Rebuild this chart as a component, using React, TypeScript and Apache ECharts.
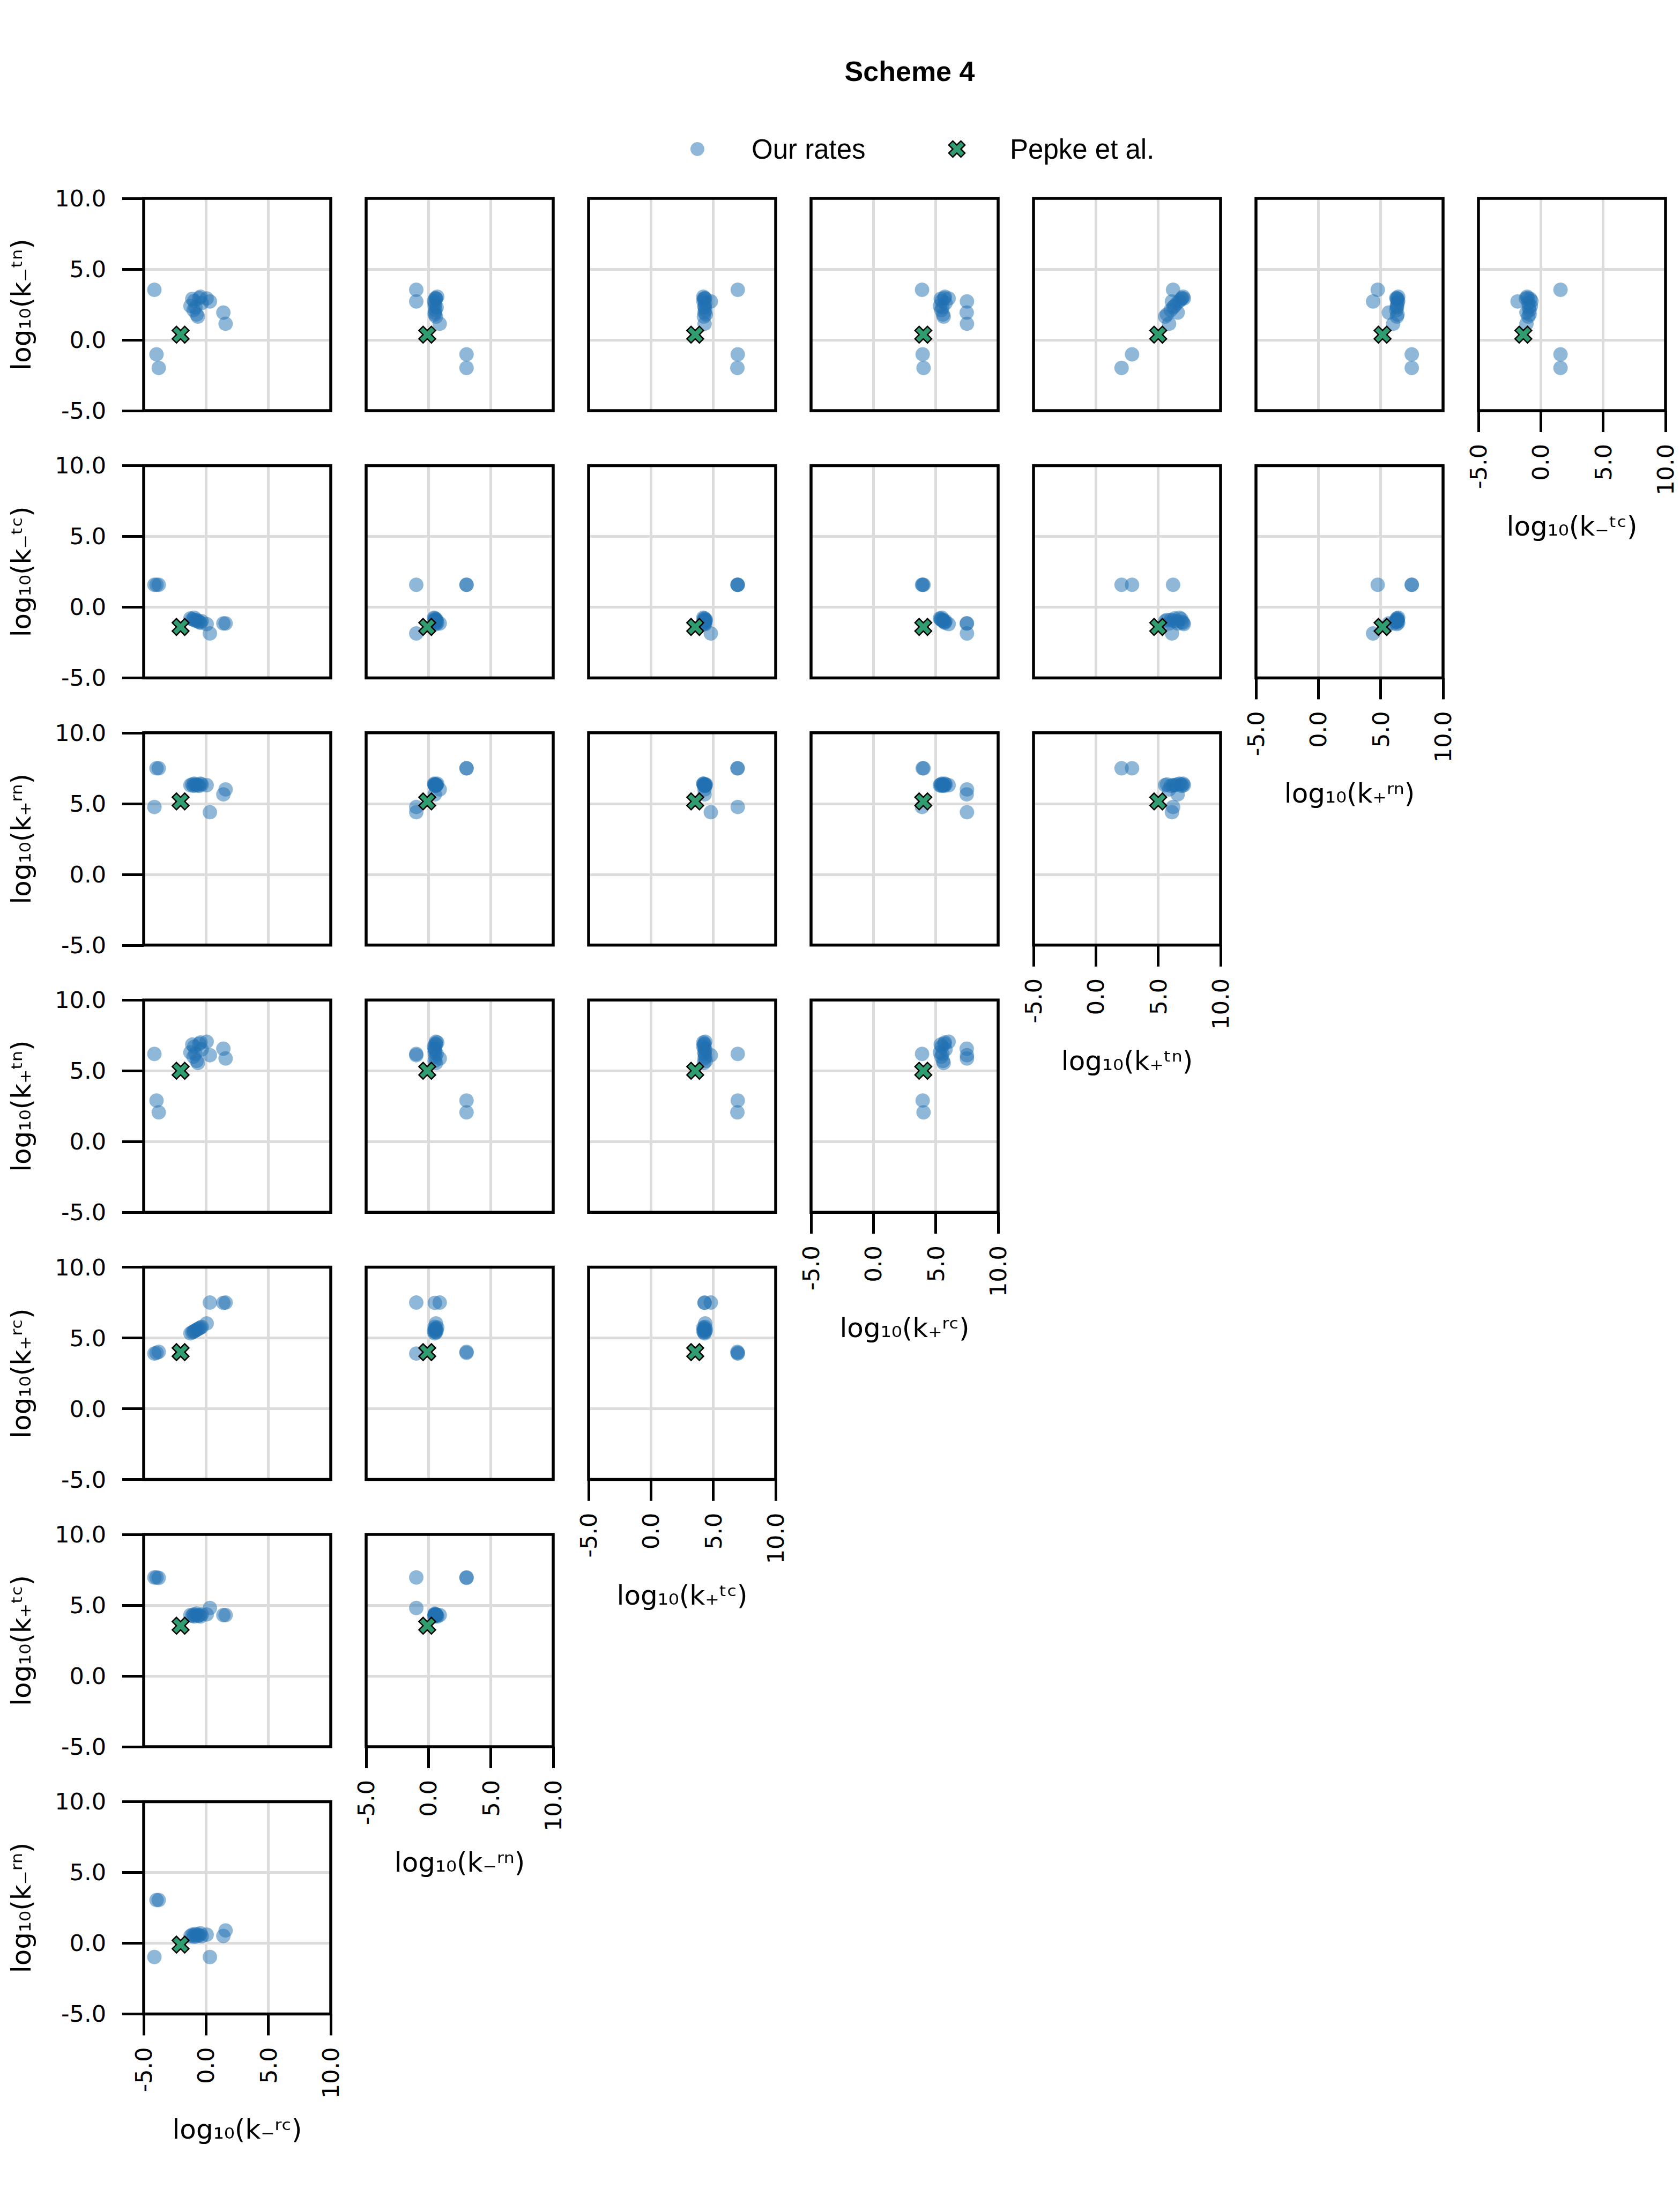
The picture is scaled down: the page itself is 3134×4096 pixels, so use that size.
import React, { useEffect, useRef } from 'react';
import * as echarts from 'echarts';

const W = 3134;
const H = 4096;

// parameter order: columns left -> right are params 0..6, rows top -> bottom are params 7..1
const paramLabels = [
  'log₁₀(k₋ʳᶜ)',
  'log₁₀(k₋ʳⁿ)',
  'log₁₀(k₊ᵗᶜ)',
  'log₁₀(k₊ʳᶜ)',
  'log₁₀(k₊ᵗⁿ)',
  'log₁₀(k₊ʳⁿ)',
  'log₁₀(k₋ᵗᶜ)',
  'log₁₀(k₋ᵗⁿ)',
];

const tickValues = [-5, 0, 5, 10];
const tickLabels = ['-5.0', '0.0', '5.0', '10.0'];

// "Our rates": one entry per fitted parameter set (same index = same fit)
const logKmRc = [-4.14, -3.97, -3.79, 0.31, 1.39, 1.57, 0.05, -1.25, -1.1, -1.0, -0.95, -0.85, -0.75, -0.65, -0.55, -0.45, -0.35];
const logKmRn = [-0.98, 3.05, 3.05, -0.98, 0.51, 0.9, 0.6, 0.5, 0.6, 0.55, 0.45, 0.65, 0.5, 0.6, 0.55, 0.7, 0.5];
const logKpTc = [6.96, 6.96, 6.93, 4.8, 4.3, 4.3, 4.35, 4.3, 4.25, 4.35, 4.2, 4.3, 4.4, 4.25, 4.3, 4.2, 4.35];
const logKpRc = [3.9, 3.95, 4.02, 7.5, 7.48, 7.5, 6.03, 5.33, 5.4, 5.45, 5.48, 5.53, 5.58, 5.63, 5.68, 5.73, 5.78];
const logKpTn = [6.19, 2.9, 2.06, 6.1, 6.56, 5.87, 7.05, 6.3, 6.85, 6.0, 6.7, 6.2, 5.7, 5.55, 6.9, 7.0, 6.5];
const logKpRn = [4.76, 7.49, 7.49, 4.39, 5.65, 6.0, 6.3, 6.3, 6.35, 6.25, 6.4, 6.3, 6.35, 6.3, 6.25, 6.4, 6.35];
const logKmTc = [1.58, 1.58, 1.58, -1.86, -1.15, -1.15, -1.2, -0.8, -0.85, -0.9, -0.75, -0.95, -0.9, -1.0, -1.05, -1.1, -1.0];
const logKmTn = [3.54, -1.02, -1.98, 2.72, 1.93, 1.14, 2.93, 2.4, 2.9, 2.1, 2.75, 2.3, 1.8, 1.65, 2.95, 3.05, 2.6];

// Pepke et al. values, same parameter order
const pepkeRates = [-2.04, -0.1, 3.55, 4.0, 5.0, 5.15, -1.4, 0.37];

const ourRates = [logKmRc, logKmRn, logKpTc, logKpRc, logKpTn, logKpRn, logKmTc, logKmTn];

const BLUE = '#1f6fb2';
const LEGEND_BLUE = '#8fb7d9';
const GREEN = '#2f9d6f';

const X_UNIT: number[][] = [
  [-0.4714, 0.9428], [0, 0.4714], [0.4714, 0.9428], [0.9428, 0.4714],
  [0.4714, 0], [0.9428, -0.4714], [0.4714, -0.9428], [0, -0.4714],
  [-0.4714, -0.9428], [-0.9428, -0.4714], [-0.4714, 0], [-0.9428, 0.4714],
];
const X_PATH =
  'path://' +
  X_UNIT.map((p, i) => (i ? 'L' : 'M') + (p[0] * 100 + 100).toFixed(2) + ',' + (p[1] * 100 + 100).toFixed(2)).join(' ') +
  ' Z';

// layout (window px)
const GX0 = 268;
const GDX = 415;
const GW = 349;
const GY0 = 370;
const GDY = 498.4;
const GH = 396;

const TICK_FONT = 'DejaVu Sans';
const LABEL_FONT = 'DejaVu Sans';
const SANS = 'Liberation Sans';

function fmtTick(v: number) {
  const i = tickValues.indexOf(v);
  return i >= 0 ? tickLabels[i] : '';
}

function buildOption() {
  const grids: any[] = [];
  const xAxes: any[] = [];
  const yAxes: any[] = [];
  const series: any[] = [];
  const graphics: any[] = [];
  let idx = 0;
  const nRows = 7;
  for (let r = 0; r < nRows; r++) {
    const yParam = 7 - r;
    for (let c = 0; c < nRows - r; c++) {
      const xParam = c;
      const left = GX0 + GDX * c;
      const top = GY0 + GDY * r;
      const isBottom = r === nRows - 1 - c;
      const isLeft = c === 0;
      grids.push({
        left,
        top,
        width: GW,
        height: GH,
        show: true,
        borderColor: '#000',
        borderWidth: 5.5,
        backgroundColor: 'rgba(0,0,0,0)',
        containLabel: false,
        z: 3,
      });
      const splitLine = {
        show: true,
        showMinLine: false,
        showMaxLine: false,
        lineStyle: { color: '#dcdcdc', width: 5 },
      };
      xAxes.push({
        gridIndex: idx,
        type: 'value',
        position: 'bottom',
        min: -5,
        max: 10,
        interval: 5,
        axisLine: { show: false, onZero: false },
        axisTick: { show: isBottom, length: 40, lineStyle: { color: '#000', width: 5 } },
        axisLabel: {
          show: isBottom,
          rotate: 90,
          margin: 62,
          fontSize: 43,
          lineHeight: 36,
          fontFamily: TICK_FONT,
          color: '#000',
          formatter: fmtTick,
        },
        splitLine,
      });
      yAxes.push({
        gridIndex: idx,
        type: 'value',
        position: 'left',
        min: -5,
        max: 10,
        interval: 5,
        axisLine: { show: false, onZero: false },
        axisTick: { show: isLeft, length: 40, lineStyle: { color: '#000', width: 5 } },
        axisLabel: {
          show: isLeft,
          margin: 70,
          fontSize: 43,
          fontFamily: TICK_FONT,
          color: '#000',
          formatter: fmtTick,
        },
        splitLine,
      });
      const xs = ourRates[xParam];
      const ys = ourRates[yParam];
      series.push({
        type: 'scatter',
        name: 'Our rates',
        xAxisIndex: idx,
        yAxisIndex: idx,
        data: xs.map((v, i) => [v, ys[i]]),
        symbol: 'circle',
        symbolSize: 27,
        itemStyle: { color: BLUE, opacity: 0.5 },
        silent: true,
        z: 4,
      });
      series.push({
        type: 'scatter',
        name: 'Pepke et al.',
        xAxisIndex: idx,
        yAxisIndex: idx,
        data: [[pepkeRates[xParam], pepkeRates[yParam]]],
        symbol: X_PATH,
        symbolSize: 31,
        itemStyle: { color: GREEN, borderColor: '#000', borderWidth: 2.5, opacity: 1 },
        silent: true,
        z: 5,
      });
      idx++;
    }
  }

  // y axis titles
  for (let r = 0; r < nRows; r++) {
    graphics.push({
      type: 'text',
      x: 40,
      y: GY0 + GDY * r + GH / 2,
      rotation: Math.PI / 2,
      style: {
        text: paramLabels[7 - r],
        fontSize: 50,
        fontFamily: LABEL_FONT,
        fill: '#000',
        textAlign: 'center',
        textVerticalAlign: 'middle',
      },
    });
  }
  // x axis titles
  for (let c = 0; c < nRows; c++) {
    const r = nRows - 1 - c;
    graphics.push({
      type: 'text',
      x: GX0 + GDX * c + GW / 2,
      y: GY0 + GDY * r + GH + 216,
      style: {
        text: paramLabels[c],
        fontSize: 50,
        fontFamily: LABEL_FONT,
        fill: '#000',
        textAlign: 'center',
        textVerticalAlign: 'middle',
      },
    });
  }

  // title
  graphics.push({
    type: 'text',
    x: 1697,
    y: 133,
    style: {
      text: 'Scheme 4',
      fontSize: 52,
      fontWeight: 'bold',
      fontFamily: SANS,
      fill: '#000',
      textAlign: 'center',
      textVerticalAlign: 'middle',
    },
  });

  // legend
  const legY = 278;
  graphics.push({
    type: 'circle',
    shape: { cx: 1301, cy: legY, r: 13 },
    style: { fill: LEGEND_BLUE },
  });
  graphics.push({
    type: 'text',
    x: 1402,
    y: legY,
    style: {
      text: 'Our rates',
      fontSize: 51,
      fontFamily: SANS,
      fill: '#000',
      textAlign: 'left',
      textVerticalAlign: 'middle',
    },
  });
  graphics.push({
    type: 'polygon',
    shape: { points: X_UNIT.map((p) => [1785 + p[0] * 16, legY + p[1] * 16]) },
    style: { fill: GREEN, stroke: '#000', lineWidth: 2.5 },
  });
  graphics.push({
    type: 'text',
    x: 1884,
    y: legY,
    style: {
      text: 'Pepke et al.',
      fontSize: 51,
      fontFamily: SANS,
      fill: '#000',
      textAlign: 'left',
      textVerticalAlign: 'middle',
    },
  });

  return {
    animation: false,
    backgroundColor: '#ffffff',
    textStyle: { fontFamily: SANS },
    grid: grids,
    xAxis: xAxes,
    yAxis: yAxes,
    series,
    graphic: { elements: graphics },
  };
}

export default function App() {
  const ref = useRef<HTMLDivElement>(null);
  useEffect(() => {
    document.body.style.margin = '0';
    if (!ref.current) return;
    const chart = echarts.init(ref.current, null, { renderer: 'svg', width: W, height: H });
    chart.setOption(buildOption() as any);
    return () => {
      chart.dispose();
    };
  }, []);
  return <div ref={ref} style={{ width: W, height: H }} />;
}
